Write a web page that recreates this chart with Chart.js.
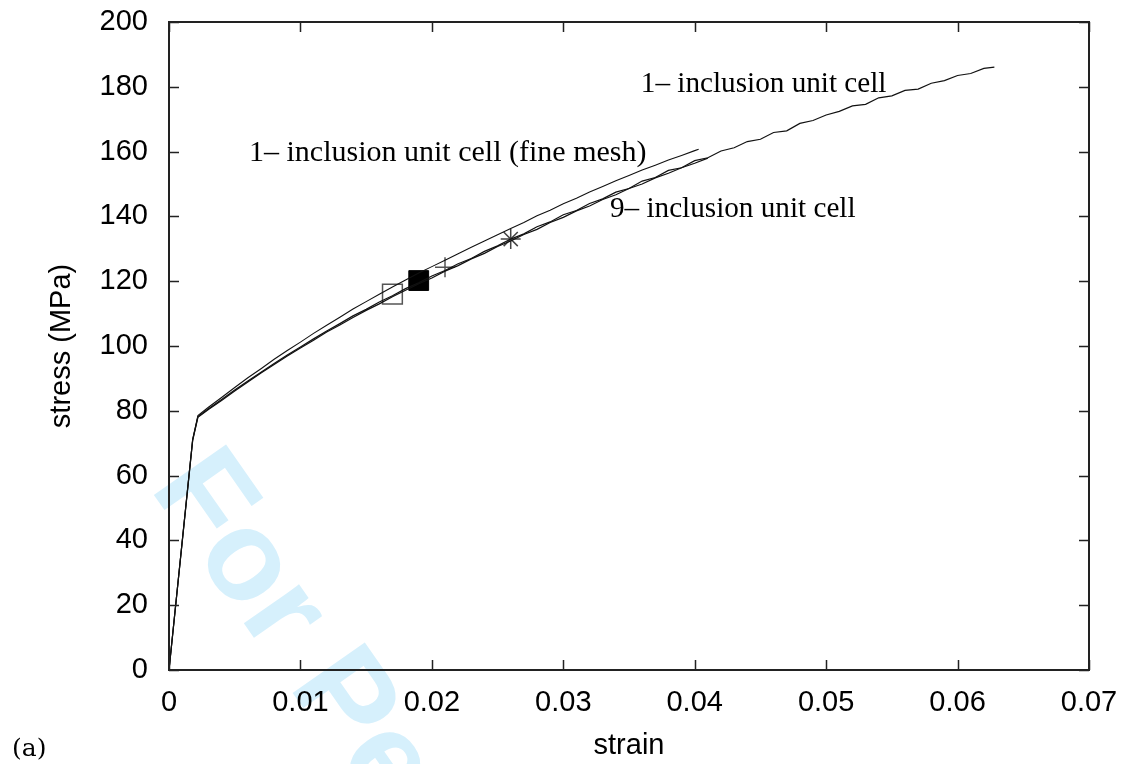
<!DOCTYPE html>
<html><head><meta charset="utf-8">
<script src="https://cdn.jsdelivr.net/npm/chart.js@4.4.1/dist/chart.umd.min.js"></script>
<style>html,body{margin:0;padding:0;background:#fff}canvas{display:block}</style>
</head><body>
<canvas id="c" width="1124" height="764"></canvas>
<script>
// ---- data ----
const coarseStrain = [0,0.0018,0.0022,0.003,0.004,0.005,0.006,0.007,0.008,0.009,0.010,0.011,0.012,0.013,0.014,0.015,0.016,0.017,0.018,0.019,0.020,0.021,0.022,0.023,0.024,0.025,0.026,0.027,0.028,0.029,0.030,0.031,0.032,0.033,0.034,0.035,0.036,0.037,0.038,0.039,0.040,0.041,0.042,0.043,0.044,0.045,0.046,0.047,0.048,0.049,0.050,0.051,0.052,0.053,0.054,0.055,0.056,0.057,0.058,0.059,0.060,0.061,0.062,0.0628];
const coarseStress = [0,71.0,78.2,80.6,83.5,86.4,89.2,91.9,94.6,97.2,99.7,102.2,104.6,106.9,109.3,111.3,113.6,115.5,117.7,119.5,121.6,123.3,125.4,127.0,129.2,130.9,133.0,134.6,136.8,138.3,140.5,141.8,144.0,145.4,147.5,148.6,150.9,152.0,154.2,155.0,157.2,158.1,160.2,161.2,163.1,163.8,165.9,166.4,168.7,169.6,171.3,172.4,174.1,174.6,176.6,177.2,178.9,179.3,181.1,181.9,183.5,184.1,185.7,186.1];

const nineStrain = [0,0.0018,0.0022,0.003,0.004,0.005,0.006,0.007,0.008,0.009,0.010,0.011,0.012,0.013,0.014,0.015,0.016,0.017,0.018,0.019,0.020,0.021,0.022,0.023,0.024,0.025,0.026,0.027,0.028,0.029,0.030,0.031,0.032,0.033,0.034,0.035,0.036,0.037,0.038,0.039,0.040,0.041];
const nineStress = [0,70.8,78.0,80.4,83.2,86.1,88.9,91.7,94.3,96.9,99.4,101.8,104.3,106.5,108.8,111.0,113.0,115.2,117.2,119.2,121.0,123.1,124.8,126.9,128.6,130.7,132.4,134.4,136.0,138.1,139.7,141.7,143.2,145.2,146.7,148.6,150.0,151.9,153.3,155.0,156.4,158.0];

const fineStrain = [0,0.0018,0.0022,0.003,0.004,0.005,0.006,0.007,0.008,0.009,0.010,0.011,0.012,0.013,0.014,0.015,0.016,0.017,0.018,0.019,0.020,0.021,0.022,0.023,0.024,0.025,0.026,0.027,0.028,0.029,0.030,0.031,0.032,0.033,0.034,0.035,0.036,0.037,0.038,0.039,0.040,0.0403];
const fineStress = [0,71.2,78.5,81.1,84.1,87.2,90.2,93.0,95.9,98.6,101.2,103.9,106.4,108.9,111.4,113.7,116.0,118.2,120.4,122.5,124.5,126.5,128.5,130.5,132.4,134.3,136.3,138.1,140.2,141.9,143.9,145.6,147.5,149.2,151.0,152.6,154.3,155.8,157.4,158.8,160.3,160.7];

// single marked points
const openSquarePt = [0.0170, 116.0];
const filledSquarePt = [0.0190, 120.2];
const plusPt = [0.0210, 124.3];
const starPt = [0.0260, 133.0];

// curve labels: text, strain, stress (anchor = left end of baseline)
const labelTexts = ['1\u2013 inclusion unit cell', '1\u2013 inclusion unit cell (fine mesh)', '9\u2013 inclusion unit cell'];
const labelStrain = [0.0359, 0.00609, 0.03355];
const labelStress = [178.4, 157.1, 139.8];

const xTicks = [0,0.01,0.02,0.03,0.04,0.05,0.06,0.07];
const yTicks = [0,20,40,60,80,100,120,140,160,180,200];

// ---- helpers ----
const pts = (xs, ys) => xs.map((x, i) => ({x: x, y: ys[i]}));
const LINE = '#111';
const noPad = s => { s.paddingLeft = 0; s.paddingRight = 0; s.paddingTop = 0; s.paddingBottom = 0; };

const watermark = {
  id: 'watermark',
  beforeDraw(chart) {
    const ctx = chart.ctx;
    ctx.save();
    ctx.fillStyle = '#fff';
    ctx.fillRect(0, 0, chart.width, chart.height);
    ctx.translate(149, 488);
    ctx.rotate(55 * Math.PI / 180);
    ctx.font = 'bold 128px "Liberation Sans", Arial, sans-serif';
    ctx.fillStyle = '#d6f0fc';
    ctx.textBaseline = 'alphabetic';
    ctx.fillText('For Peer Review', 0, 0);
    ctx.restore();
  }
};

const frame = {
  id: 'frame',
  afterDraw(chart) {
    const ctx = chart.ctx, a = chart.chartArea;
    const xs = chart.scales.x, ys = chart.scales.y;
    ctx.save();
    ctx.strokeStyle = '#222';
    ctx.lineWidth = 1.5;
    ctx.beginPath();
    xTicks.forEach(v => {
      const p = Math.round(xs.getPixelForValue(v)) + 0.5;
      ctx.moveTo(p, a.bottom); ctx.lineTo(p, a.bottom - 10);
      ctx.moveTo(p, a.top); ctx.lineTo(p, a.top + 10);
    });
    yTicks.forEach(v => {
      const p = Math.round(ys.getPixelForValue(v)) + 0.5;
      ctx.moveTo(a.left, p); ctx.lineTo(a.left + 10, p);
      ctx.moveTo(a.right, p); ctx.lineTo(a.right - 10, p);
    });
    ctx.stroke();
    ctx.lineWidth = 2;
    ctx.strokeRect(a.left, a.top, a.right - a.left, a.bottom - a.top);
    // curve labels
    ctx.fillStyle = '#000';
    ctx.textBaseline = 'alphabetic';
    ctx.textAlign = 'left';
    labelTexts.forEach((t, i) => {
      ctx.font = (i === 1 ? '30px' : '29.2px') + ' "Liberation Serif", "Times New Roman", serif';
      ctx.fillText(t, xs.getPixelForValue(labelStrain[i]), ys.getPixelForValue(labelStress[i]));
    });
    ctx.font = '25px "DejaVu Serif", "Liberation Serif", serif';
    ctx.fillText('(a)', 12, 756);
    ctx.restore();
  }
};

Chart.defaults.font.family = '"Liberation Sans", Arial, Helvetica, sans-serif';
Chart.defaults.color = '#000';

new Chart(document.getElementById('c'), {
  type: 'scatter',
  data: {
    datasets: [
      {label: '1- inclusion unit cell', data: pts(coarseStrain, coarseStress), showLine: true, borderColor: LINE, borderWidth: 1.2, pointRadius: 0, tension: 0},
      {label: '9- inclusion unit cell', data: pts(nineStrain, nineStress), showLine: true, borderColor: LINE, borderWidth: 1.2, pointRadius: 0, tension: 0},
      {label: '1- inclusion unit cell (fine mesh)', data: pts(fineStrain, fineStress), showLine: true, borderColor: LINE, borderWidth: 1.1, pointRadius: 0, tension: 0},
      {label: 'open square', data: [{x: openSquarePt[0], y: openSquarePt[1]}], pointStyle: 'rect', pointRadius: 14, borderColor: '#555', borderWidth: 1.5, backgroundColor: 'rgba(0,0,0,0)'},
      {label: 'filled square', data: [{x: filledSquarePt[0], y: filledSquarePt[1]}], pointStyle: 'rect', pointRadius: 14, borderColor: '#000', borderWidth: 1, backgroundColor: '#000'},
      {label: 'plus', data: [{x: plusPt[0], y: plusPt[1]}], pointStyle: 'cross', pointRadius: 10, borderColor: '#555', borderWidth: 1.5},
      {label: 'star', data: [{x: starPt[0], y: starPt[1]}], pointStyle: 'star', pointRadius: 10, borderColor: '#444', borderWidth: 1.5}
    ]
  },
  options: {
    responsive: false,
    animation: false,
    devicePixelRatio: 1,
    layout: {padding: {left: 0, right: 35, top: 22, bottom: 0}},
    plugins: {legend: {display: false}, tooltip: {enabled: false}},
    scales: {
      x: {
        type: 'linear', min: 0, max: 0.07,
        afterFit(s) { s.height = 94; noPad(s); },
        afterBuildTicks(s) { s.ticks = xTicks.map(v => ({value: v})); },
        grid: {display: false, drawTicks: false},
        border: {display: false},
        ticks: {padding: 16, font: {size: 29}, callback: v => String(+v.toFixed(2))},
        title: {display: true, text: 'strain', font: {size: 29}, padding: {top: 0, bottom: 1}}
      },
      y: {
        type: 'linear', min: 0, max: 200,
        afterFit(s) { s.width = 169; noPad(s); },
        afterBuildTicks(s) { s.ticks = yTicks.map(v => ({value: v})); },
        grid: {display: false, drawTicks: false},
        border: {display: false},
        ticks: {padding: 21, font: {size: 29}},
        title: {display: true, text: 'stress (MPa)', font: {size: 29}, padding: {top: 45, bottom: 0}}
      }
    }
  },
  plugins: [watermark, frame]
});
</script>
</body></html>
